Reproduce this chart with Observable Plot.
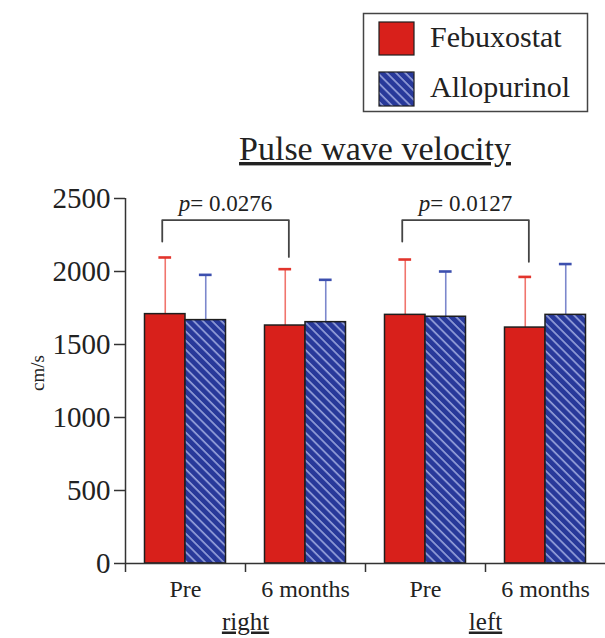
<!DOCTYPE html>
<html><head><meta charset="utf-8">
<script src="https://cdn.jsdelivr.net/npm/d3@7"></script>
<script src="https://cdn.jsdelivr.net/npm/@observablehq/plot@0.6"></script>
<style>body{margin:0;background:#fff;} #chart{width:605px;height:638px;}</style>
</head><body><div id="chart"></div>
<script>
const sides = ["right", "left"];
const timepoints = ["Pre", "6 months", "Pre", "6 months"];
const drugs = ["Febuxostat", "Allopurinol"];
const febuxostatMean = [1708, 1630, 1703, 1616];
const febuxostatSD = [388, 386, 379, 347];
const allopurinolMean = [1667, 1653, 1690, 1703];
const allopurinolSD = [310, 290, 310, 348];
const pValues = ["0.0276", "0.0127"];
const bracketPairs = [[0, 1], [2, 3]];
const bracketTop = [2352, 2352];
const bracketLeftEnd = [2205, 2205];
const bracketRightEnd = [2100, 2066];
const yTicks = [0, 500, 1000, 1500, 2000, 2500];

const RED = "#d8201b", BLUE = "#28399a";
const FONT = "'Liberation Serif', 'Times New Roman', serif";
// layout as fractions of one category slot
const OUTER = 0.1625, BAR = 0.3375, CAP = 0.053;

const bars = [];
timepoints.forEach((t, i) => {
  [[febuxostatMean, febuxostatSD], [allopurinolMean, allopurinolSD]].forEach(([m, s], j) => {
    const x1 = i + OUTER + j * BAR;
    bars.push({drug: drugs[j], x1, x2: x1 + BAR, xc: x1 + BAR / 2, mean: m[i], top: m[i] + s[i]});
  });
});
const feb = bars.filter(d => d.drug === drugs[0]);
const allo = bars.filter(d => d.drug === drugs[1]);

const bracketX = bracketPairs.map(([a, b]) => [a + OUTER + BAR / 2 - 0.025, b + OUTER + BAR / 2 + 0.03]);
const bracketLines = bracketPairs.flatMap((p, k) => {
  const [xa, xb] = bracketX[k];
  return [
    {k, x: xa, y: bracketLeftEnd[k]}, {k, x: xa, y: bracketTop[k]},
    {k, x: xb, y: bracketTop[k]}, {k, x: xb, y: bracketRightEnd[k]}
  ];
});
const pText = pValues.map((p, k) => ({x: (bracketX[k][0] + bracketX[k][1]) / 2, y: bracketTop[k], label: "p= " + p}));
const tickLabels = timepoints.map((t, i) => ({x: i + 0.5, y: 0, label: t}));
const sideLabels = sides.map((s, k) => ({x: 2 * k + 1, y: 0, label: s}));

const errMarks = (data, lineColor, capColor) => [
  Plot.ruleX(data, {x: "xc", y1: "mean", y2: "top", stroke: lineColor, strokeWidth: 1.6}),
  Plot.ruleY(data, {y: "top", x1: d => d.xc - CAP, x2: d => d.xc + CAP, stroke: capColor, strokeWidth: 2.6})
];

const svg = Plot.plot({
  width: 605, height: 638,
  marginLeft: 125, marginRight: 0, marginTop: 198, marginBottom: 75,
  x: {domain: [0, 4], axis: null},
  y: {domain: [0, 2500], axis: null},
  style: {fontFamily: FONT, color: "#222", background: "#fff"},
  marks: [
    ...errMarks(feb, "#f0756d", "#e2342c"),
    ...errMarks(allo, "#7c88cc", "#3c4fae"),
    Plot.rectY(feb, {x1: "x1", x2: "x2", y1: () => 0, y2: "mean", fill: RED, stroke: "#1e1e1e", strokeWidth: 1.5}),
    Plot.rectY(allo, {x1: "x1", x2: "x2", y1: () => 0, y2: "mean", fill: "url(#hatch)", stroke: "#1e1e1e", strokeWidth: 1.5}),
    Plot.line(bracketLines, {x: "x", y: "y", z: "k", stroke: "#444", strokeWidth: 1.8}),
    Plot.text(pText, {x: "x", y: "y", text: "label", lineAnchor: "bottom", dy: -9, fontSize: 23, fill: "#222", className: "pval"}),
    Plot.ruleX([0], {y1: 0, y2: 2500, stroke: "#333", strokeWidth: 1.5}),
    Plot.ruleY([0], {stroke: "#333", strokeWidth: 1.5}),
    Plot.axisY(yTicks, {anchor: "left", tickSize: 11, tickPadding: 4, fontSize: 29, label: null, tickFormat: d => String(d), stroke: "#333", strokeWidth: 1.5, fill: "#222"}),
    Plot.axisX([0, 1, 2, 3], {anchor: "bottom", tickSize: 9, tickFormat: () => "", label: null, stroke: "#333", strokeWidth: 1.5}),
    Plot.text(tickLabels, {x: "x", y: "y", text: "label", lineAnchor: "bottom", dy: 33, fontSize: 24, fill: "#222"}),
    Plot.text(sideLabels, {x: "x", y: "y", text: "label", lineAnchor: "bottom", dy: 66, fontSize: 25, fill: "#222", className: "sidelab"}),
    Plot.text(["cm/s"], {frameAnchor: "left", rotate: -90, dx: -88, dy: 10, fontSize: 19, fill: "#222"})
  ]
});

// hatch pattern
const s = d3.select(svg);
const defs = s.insert("defs", ":first-child");
const pat = defs.append("pattern").attr("id", "hatch").attr("patternUnits", "userSpaceOnUse")
  .attr("width", 6.5).attr("height", 6.5).attr("patternTransform", "rotate(-45)");
pat.append("rect").attr("width", 6.5).attr("height", 6.5).attr("fill", BLUE);
pat.append("line").attr("x1", 1).attr("y1", 0).attr("x2", 1).attr("y2", 6.5)
  .attr("stroke", "#b4bdec").attr("stroke-width", 1.3);

// italic p (find texts by content so it works regardless of grouping)
s.selectAll("text").each(function() {
  if (this.children.length === 0 && /^p= /.test(this.textContent)) {
    const t = d3.select(this);
    const rest = this.textContent.slice(1);
    t.text(null);
    t.append("tspan").attr("font-style", "italic").text("p");
    t.append("tspan").text(rest);
  }
  if (sides.includes(this.textContent)) d3.select(this).style("text-decoration", "underline");
});

// title
s.append("text").attr("x", 375).attr("y", 160).attr("text-anchor", "middle")
  .attr("font-family", FONT).attr("font-size", 34).attr("fill", "#222")
  .style("text-decoration", "underline").text("Pulse wave velocity");

// legend
const lg = s.append("g").attr("font-family", FONT).attr("font-size", 30).attr("fill", "#222").attr("text-anchor", "start");
lg.append("rect").attr("x", 363.5).attr("y", 13.5).attr("width", 224).attr("height", 98)
  .attr("fill", "#fff").attr("stroke", "#444").attr("stroke-width", 1.5);
lg.append("rect").attr("x", 379).attr("y", 22).attr("width", 35).attr("height", 33)
  .attr("fill", RED).attr("stroke", "#1e1e1e").attr("stroke-width", 1.2);
lg.append("rect").attr("x", 379).attr("y", 72).attr("width", 35).attr("height", 34)
  .attr("fill", "url(#hatch)").attr("stroke", "#1e1e1e").attr("stroke-width", 1.2);
lg.append("text").attr("x", 430).attr("y", 47).attr("text-anchor", "start").text(drugs[0]);
lg.append("text").attr("x", 430).attr("y", 97).attr("text-anchor", "start").text(drugs[1]);

document.getElementById("chart").appendChild(svg);
</script>
</body></html>
